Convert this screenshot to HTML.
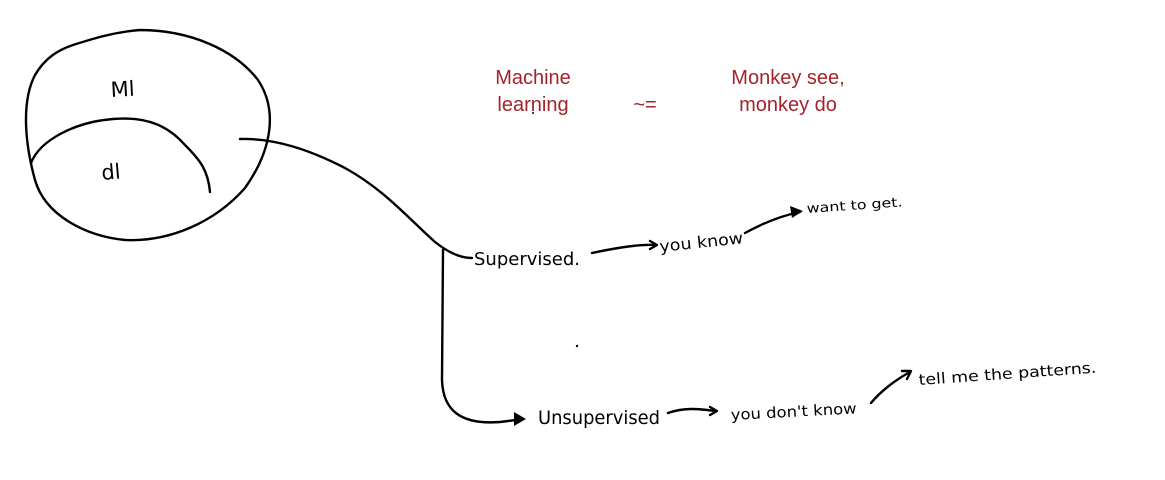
<!DOCTYPE html>
<html><head><meta charset="utf-8"><style>
html,body{margin:0;padding:0;background:#fff;width:1165px;height:480px;overflow:hidden}
svg{display:block}
.h{font-family:"DejaVu Sans","Liberation Sans",sans-serif;fill:#000}
.r{font-family:"Liberation Sans",Arial,sans-serif;fill:#a4232b;font-size:20px}
</style></head><body>
<svg width="1165" height="480" viewBox="0 0 1165 480" xmlns="http://www.w3.org/2000/svg">
<g fill="none" stroke="#000" stroke-width="2.4" stroke-linecap="round" stroke-linejoin="round">
<path d="M73 45 C95 38 115 32 140 30 C190 30 235 50 258 80 C278 110 272 150 245 188 C215 222 170 242 125 240 C85 236 45 215 35 180 C24 140 22 100 35 75 C45 58 58 50 73 45 Z"/>
<path d="M31 163 C40 140 75 122 113 119 C150 116 170 128 185 145 C200 160 208 170 210 192"/>
<path d="M240 139 C275 138 310 150 345 168 C385 190 410 220 435 242 C450 254 462 258 472 258"/>
<path d="M443 250 L442 380 C443 410 460 425 500 422 L516 420"/>
<path d="M592 253 C615 248 640 244 656 245"/>
<path d="M650 241 L657 245 L650 249"/>
<path d="M745 233 C765 222 785 215 800 212"/>
<path d="M668 413 C685 407 700 409 716 411"/>
<path d="M710 407 L717 411 L710 415"/>
<path d="M871 403 C880 392 895 380 910 372"/>
<path d="M902 371 L911 371 L907 379"/>
</g>
<path d="M514 412 L526 419 L514 426 Z" fill="#000"/>
<path d="M790 206 L803 211 L792 218 Z" fill="#000"/>
<circle cx="577" cy="346" r="1.2" fill="#000"/>
<circle cx="533" cy="113" r="1" fill="#000"/>
<text class="h" x="111" y="97" font-size="21" transform="rotate(-3 111 97)">Ml</text>
<text class="h" x="102" y="180" font-size="21" transform="rotate(-5 102 180)">dl</text>
<text class="h" x="474" y="265" font-size="18" textLength="106" lengthAdjust="spacingAndGlyphs">Supervised.</text>
<text class="h" x="660" y="252" font-size="16" textLength="84" lengthAdjust="spacingAndGlyphs" transform="rotate(-6 660 252)">you know</text>
<text class="h" x="807" y="213" font-size="13" textLength="96" lengthAdjust="spacingAndGlyphs" transform="rotate(-4 807 213)">want to get.</text>
<text class="h" x="538" y="424" font-size="19" textLength="122" lengthAdjust="spacingAndGlyphs">Unsupervised</text>
<text class="h" x="731" y="420" font-size="15" textLength="126" lengthAdjust="spacingAndGlyphs" transform="rotate(-3 731 420)">you don't know</text>
<text class="h" x="919" y="385" font-size="15" textLength="178" lengthAdjust="spacingAndGlyphs" transform="rotate(-4 919 385)">tell me the patterns.</text>
<text class="r" x="533" y="84" text-anchor="middle">Machine</text>
<text class="r" x="533" y="111" text-anchor="middle">learning</text>
<text class="r" x="645" y="111" text-anchor="middle">~=</text>
<text class="r" x="788" y="84" text-anchor="middle">Monkey see,</text>
<text class="r" x="788" y="111" text-anchor="middle">monkey do</text>
</svg>
</body></html>
